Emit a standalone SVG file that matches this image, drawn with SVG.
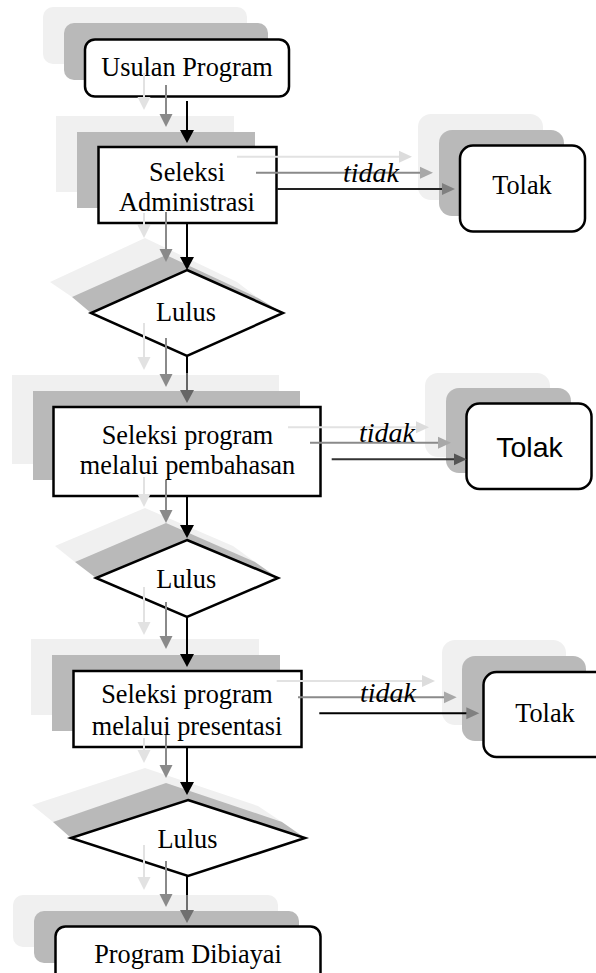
<svg xmlns="http://www.w3.org/2000/svg" width="596" height="973" viewBox="0 0 596 973">
<defs>
<style>
.sl{fill:#f0f0f0}
.sm{fill:#b9b9b9}
.shape{fill:#fff;stroke:#000;stroke-width:2.5}
.t{font-family:"Liberation Serif","Times New Roman",serif;font-size:26.3px;fill:#000;text-anchor:middle}
.ti{font-style:italic;font-size:28px}
.ts{font-family:"Liberation Sans",Arial,sans-serif;font-size:28.5px}
.c{fill:none;stroke-width:2}
.cb{stroke:#000}
.cl{stroke:#e2e2e2}
.cm{stroke:#8a8a8a}
.c66{stroke:#666}
.c70{stroke:#707070}
.c33{stroke:#333}
.c22{stroke:#222}
</style>
<marker id="ab" markerUnits="userSpaceOnUse" markerWidth="14" markerHeight="14" refX="1" refY="7" orient="auto" viewBox="0 0 14 14"><path d="M0,0 L13,7 L0,14 z" fill="#000"/></marker>
<marker id="al" markerUnits="userSpaceOnUse" markerWidth="14" markerHeight="14" refX="1" refY="7" orient="auto" viewBox="0 0 14 14"><path d="M0,0.5 L13,7 L0,13.5 z" fill="#e2e2e2"/></marker>
<marker id="am" markerUnits="userSpaceOnUse" markerWidth="14" markerHeight="14" refX="1" refY="7" orient="auto" viewBox="0 0 14 14"><path d="M0,0.5 L13,7 L0,13.5 z" fill="#8a8a8a"/></marker>
<marker id="a66" markerUnits="userSpaceOnUse" markerWidth="14" markerHeight="14" refX="1" refY="7" orient="auto" viewBox="0 0 14 14"><path d="M0,0 L13,7 L0,14 z" fill="#666"/></marker>
<marker id="a70" markerUnits="userSpaceOnUse" markerWidth="14" markerHeight="14" refX="1" refY="7" orient="auto" viewBox="0 0 14 14"><path d="M0,0 L13,7 L0,14 z" fill="#707070"/></marker>
<marker id="a80" markerUnits="userSpaceOnUse" markerWidth="14" markerHeight="14" refX="1" refY="7" orient="auto" viewBox="0 0 14 14"><path d="M0,1 L13,7 L0,13 z" fill="#808080"/></marker>
<marker id="a55" markerUnits="userSpaceOnUse" markerWidth="14" markerHeight="14" refX="1" refY="7" orient="auto" viewBox="0 0 14 14"><path d="M0,1 L13,7 L0,13 z" fill="#555"/></marker>
<marker id="atm" markerUnits="userSpaceOnUse" markerWidth="14" markerHeight="14" refX="1" refY="7" orient="auto" viewBox="0 0 14 14"><path d="M0,1 L13,7 L0,13 z" fill="#a8a8a8"/></marker>
<marker id="atl" markerUnits="userSpaceOnUse" markerWidth="14" markerHeight="14" refX="1" refY="7" orient="auto" viewBox="0 0 14 14"><path d="M0,1 L13,7 L0,13 z" fill="#dcdcdc"/></marker>
</defs>
<rect x="0" y="0" width="596" height="973" fill="#fff"/>

<g id="usulan">
<rect class="sl" x="43" y="7" width="204" height="57" rx="10"/>
<rect class="sm" x="64" y="23" width="204" height="57" rx="10"/>
<rect class="shape" x="85" y="39.5" width="204" height="57" rx="10"/>
<text class="t" x="187" y="76">Usulan Program</text>
</g>

<g id="seleksi-admin">
<rect class="sl" x="56" y="116" width="178" height="76"/>
<rect class="sm" x="77" y="132" width="178" height="76"/>
<rect class="shape" x="98.5" y="147" width="178" height="76"/>
<text class="t" x="187" y="181">Seleksi</text>
<text class="t" x="187" y="211">Administrasi</text>
</g>

<g id="tolak1">
<rect class="sl" x="418" y="114" width="125" height="86" rx="13"/>
<rect class="sm" x="439" y="130" width="125" height="86" rx="13"/>
<rect class="shape" x="460" y="145.5" width="125" height="86" rx="13"/>
<text class="t" x="522" y="194.3">Tolak</text>
</g>

<g id="lulus1">
<polygon class="sl" points="50,282 145,238 237,282 258,298 72,297"/>
<polygon class="sm" points="72,297 166,255 258,298 283,313 91,313"/>
<polygon class="shape" points="187,270 283,313 187,356 91,313"/>
<text class="t" x="186" y="320.7">Lulus</text>
</g>

<g id="seleksi-pembahasan">
<rect class="sl" x="12" y="375" width="267" height="89"/>
<rect class="sm" x="33" y="391" width="267" height="89"/>
<rect class="shape" x="53.5" y="407" width="267" height="89"/>
<text class="t" x="187.5" y="444">Seleksi program</text>
<text class="t" x="187.5" y="474">melalui pembahasan</text>
</g>

<g id="tolak2">
<rect class="sl" x="425" y="373" width="125" height="84" rx="13"/>
<rect class="sm" x="446" y="388" width="125" height="85" rx="13"/>
<rect class="shape" x="466.5" y="403.5" width="125" height="85.5" rx="13"/>
<text class="t ts" x="529.5" y="457.3">Tolak</text>
</g>

<g id="lulus2">
<polygon class="sl" points="55,546 145,508 233,546 255,562 75,562"/>
<polygon class="sm" points="75,562 166,523 255,562 278,578 96,578"/>
<polygon class="shape" points="187,540 278,578 187,617 96,578"/>
<text class="t" x="186.3" y="588.3">Lulus</text>
</g>

<g id="seleksi-presentasi">
<rect class="sl" x="31" y="639" width="228" height="76"/>
<rect class="sm" x="52" y="655" width="228" height="76"/>
<rect class="shape" x="73.5" y="671" width="228" height="76"/>
<text class="t" x="187" y="702.7">Seleksi program</text>
<text class="t" x="187" y="735">melalui presentasi</text>
</g>

<g id="tolak3">
<rect class="sl" x="442" y="640" width="124" height="85" rx="13"/>
<rect class="sm" x="462" y="656" width="124" height="85" rx="13"/>
<rect class="shape" x="483.5" y="672" width="124" height="85" rx="13"/>
<text class="t" x="545" y="721.7">Tolak</text>
</g>

<g id="lulus3">
<polygon class="sl" points="32,805 145,768 258,806 282,822 53,822"/>
<polygon class="sm" points="53,822 166,783 282,822 305,838 71,838"/>
<polygon class="shape" points="188,800 305,838 188,876 71,838"/>
<text class="t" x="187.5" y="848.3">Lulus</text>
</g>

<g id="program-dibiayai">
<rect class="sl" x="13" y="895" width="265" height="52" rx="10"/>
<rect class="sm" x="34" y="911" width="265" height="52" rx="10"/>
<rect class="shape" x="55.5" y="926.5" width="265" height="60" rx="10"/>
<text class="t" x="188" y="962.7">Program Dibiayai</text>
</g>

<g id="connectors">
<path class="c cb" d="M187,101 V131" marker-end="url(#ab)"/>
<path class="c cb" d="M187,223 V258" marker-end="url(#ab)"/>
<path class="c cb" d="M187,356 V373"/>
<path class="c c66" d="M187,373 V391" marker-end="url(#a66)"/>
<path class="c cb" d="M187,496 V526" marker-end="url(#ab)"/>
<path class="c cb" d="M187,617 V655" marker-end="url(#ab)"/>
<path class="c cb" d="M187,747 V783" marker-end="url(#ab)"/>
<path class="c cb" d="M187,876 V895"/>
<path class="c c70" d="M187,895 V911" marker-end="url(#a70)"/>

<path class="c cl" d="M144,73 V98" marker-end="url(#al)"/>
<path class="c cl" d="M144,213 V226" marker-end="url(#al)"/>
<path class="c cl" d="M144,323 V358" marker-end="url(#al)"/>
<path class="c cl" d="M144,477 V495" marker-end="url(#al)"/>
<path class="c cl" d="M144,587 V623" marker-end="url(#al)"/>
<path class="c cl" d="M144,738 V751" marker-end="url(#al)"/>
<path class="c cl" d="M144,845 V878" marker-end="url(#al)"/>

<path class="c cm" d="M166,85 V115" marker-end="url(#am)"/>
<path class="c cm" d="M166,212 V250" marker-end="url(#am)"/>
<path class="c cm" d="M166,338 V375" marker-end="url(#am)"/>
<path class="c cm" d="M166,480 V511" marker-end="url(#am)"/>
<path class="c cm" d="M166,602 V637" marker-end="url(#am)"/>
<path class="c cm" d="M166,735 V766" marker-end="url(#am)"/>
<path class="c cm" d="M166,861 V895" marker-end="url(#am)"/>

<path class="c c22" d="M277,189 H443" marker-end="url(#a80)"/>
<path class="c cm" d="M256,172.7 H421" marker-end="url(#atm)"/>
<path class="c cl" d="M237,156.7 H400" marker-end="url(#atl)"/>

<path class="c c33" d="M331.7,459.3 H454.7" marker-end="url(#a55)"/>
<path class="c cm" d="M310,442.7 H439" marker-end="url(#atm)"/>
<path class="c cl" d="M288,427.3 H417" marker-end="url(#atl)"/>

<path class="c cb" d="M319.3,713.3 H467.3" marker-end="url(#a80)"/>
<path class="c cm" d="M298,697.3 H444.7" marker-end="url(#atm)"/>
<path class="c cl" d="M276.7,681 H423" marker-end="url(#atl)"/>

<text class="t ti" x="371" y="181.7">tidak</text>
<text class="t ti" x="387" y="441.7">tidak</text>
<text class="t ti" x="388" y="701.7">tidak</text>
</g>
</svg>
